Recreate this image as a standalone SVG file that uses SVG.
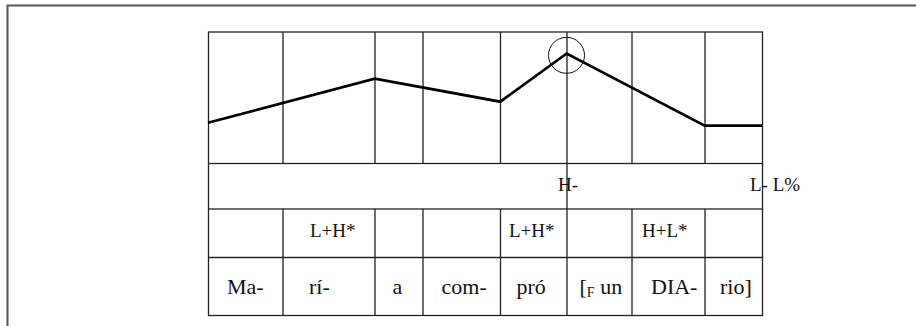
<svg xmlns="http://www.w3.org/2000/svg" width="916" height="326" viewBox="0 0 916 326">
<style>
.frame{fill:none;stroke:#555;stroke-width:2}
.grid{fill:none;stroke:#222;stroke-width:1.3}
.contour{fill:none;stroke:#000;stroke-width:2.7;stroke-linejoin:miter}
.ring{fill:none;stroke:#111;stroke-width:1}
.t{font-family:"Liberation Serif","Times New Roman",serif;fill:#111}
.s{font-size:22px}
.m{font-size:19px}
.sub{font-size:14px}
</style>
<rect width="916" height="326" fill="#fff"/>
<path class="frame" d="M7.5,326 V5.5 H916"/>
<g id="grid">
<rect class="grid" x="208.5" y="32" width="554" height="131.5"/>
<rect class="grid" x="208.5" y="209" width="554" height="106.5"/>
<line class="grid" x1="208.5" y1="163.5" x2="208.5" y2="209"/>
<line class="grid" x1="762.5" y1="163.5" x2="762.5" y2="209"/>
<line class="grid" x1="208.5" y1="257.5" x2="762.5" y2="257.5"/>
<line class="grid" x1="567" y1="32" x2="567" y2="315.5"/>
<path class="grid" d="M283,32V163.5M375,32V163.5M423,32V163.5M500.5,32V163.5M632,32V163.5M705,32V163.5"/>
<path class="grid" d="M283,209V315.5M375,209V315.5M423,209V315.5M500.5,209V315.5M632,209V315.5M705,209V315.5"/>
</g>
<g id="contour">
<polyline class="contour" points="208,122.7 374.7,78.7 500.3,101.7 566.7,53.5 704.7,125.7 762,125.7"/>
<circle class="ring" cx="566.5" cy="55.3" r="18"/>
</g>
<g id="boundary-tones">
<text class="t m" x="558" y="191">H-</text>
<text class="t m" x="750" y="191">L- L%</text>
</g>
<g id="pitch-accents">
<text class="t m" x="310" y="237">L+H*</text>
<text class="t m" x="509" y="237">L+H*</text>
<text class="t m" x="642" y="237">H+L*</text>
</g>
<g id="syllables">
<text class="t s" x="227" y="293.5">Ma-</text>
<text class="t s" x="309" y="293.5">rí-</text>
<text class="t s" x="392.5" y="293.5">a</text>
<text class="t s" x="441.5" y="293.5">com-</text>
<text class="t s" x="516.5" y="293.5">pró</text>
<text class="t s" x="579.5" y="293.5">[<tspan class="sub" dy="3">F</tspan><tspan dy="-3"> un</tspan></text>
<text class="t s" x="651" y="293.5">DIA-</text>
<text class="t s" x="720" y="293.5">rio]</text>
</g>
</svg>
